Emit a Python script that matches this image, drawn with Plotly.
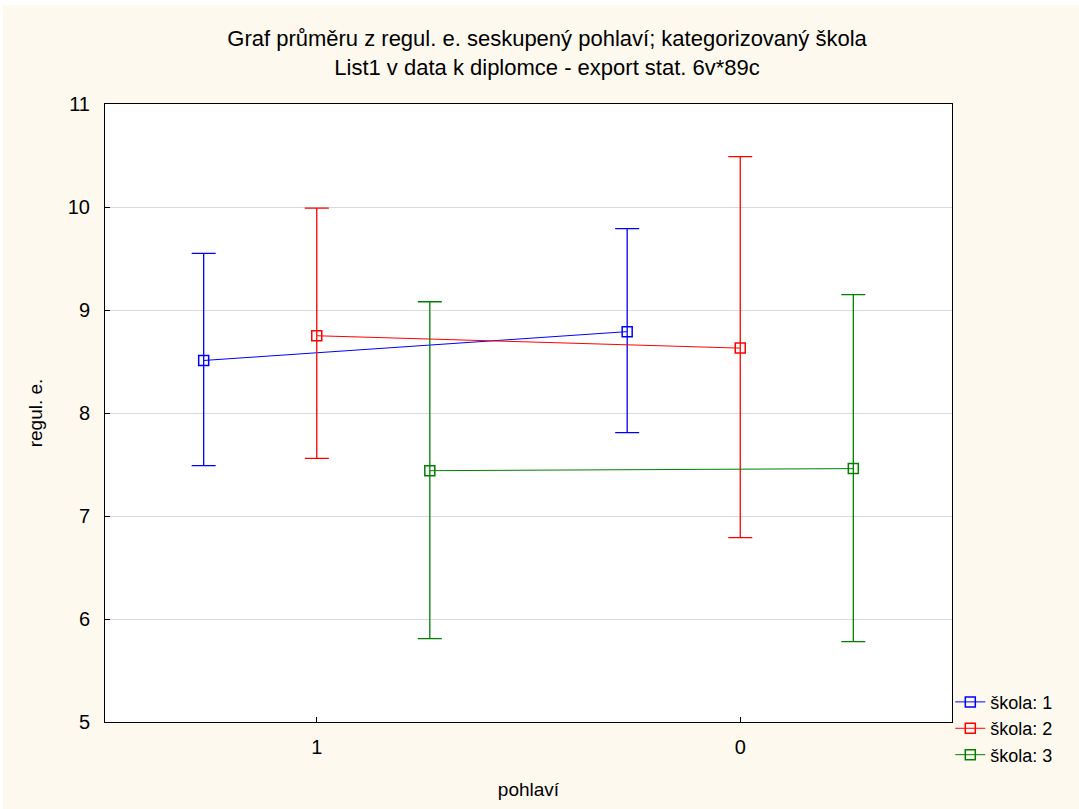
import plotly.graph_objects as go

categories = ["1", "0"]
series_names = ["škola: 1", "škola: 2", "škola: 3"]
means = [[8.51, 8.79], [8.75, 8.63], [7.44, 7.46]]
upper = [[9.55, 9.79], [9.99, 10.49], [9.08, 9.15]]
lower = [[7.49, 7.81], [7.56, 6.79], [5.81, 5.78]]
colors = ["#0000FF", "#FF0000", "#008000"]
offsets = [-0.267, 0.0, 0.267]

FONT = "Liberation Sans, Arial, sans-serif"

fig = go.Figure()
for name, m, u, lo, c, off in zip(series_names, means, upper, lower, colors, offsets):
    xs = [i + off for i in range(len(categories))]
    fig.add_trace(go.Scatter(
        x=xs, y=m, name=name, mode="lines+markers",
        line=dict(color=c, width=1),
        marker=dict(symbol="square-open", size=10, color=c, line=dict(width=1.5)),
        error_y=dict(type="data", symmetric=False,
                     array=[a - b for a, b in zip(u, m)],
                     arrayminus=[b - a for a, b in zip(lo, m)],
                     color=c, thickness=1.3, width=12),
    ))

fig.update_layout(
    width=1079, height=809,
    paper_bgcolor="#FEF9EF", plot_bgcolor="#FFFFFF",
    margin=dict(l=105, r=127, t=104, b=87),
    font=dict(family=FONT, size=20, color="#000000"),
    title=dict(text="Graf průměru z regul. e. seskupený pohlaví; kategorizovaný škola<br>List1 v data k diplomce - export stat. 6v*89c",
               x=0.507, xanchor="center", y=0.943, yanchor="top",
               font=dict(family=FONT, size=22)),
    showlegend=True,
    legend=dict(x=0.998, xanchor="left", y=0.062, yanchor="top",
                bgcolor="rgba(0,0,0,0)", font=dict(family=FONT, size=18),
                tracegroupgap=0, itemwidth=30),
    xaxis=dict(range=[-0.5, 1.5], tickmode="array", tickvals=[0, 1], ticktext=categories,
               showgrid=False, zeroline=False, showline=True, mirror=True,
               linecolor="#000000", linewidth=1, ticks="inside", ticklen=5,
               tickcolor="#000000", tickfont=dict(size=20), ticklabelstandoff=7,
               title=dict(text="pohlaví", font=dict(family=FONT, size=19), standoff=25)),
    yaxis=dict(range=[5, 11], dtick=1, showgrid=True, gridcolor="#D9D9D9", gridwidth=1,
               zeroline=False, showline=True, mirror=True,
               linecolor="#000000", linewidth=1, ticks="inside", ticklen=5,
               tickcolor="#000000", tickfont=dict(size=20), ticklabelstandoff=10,
               title=dict(text="regul. e.", font=dict(family=FONT, size=19), standoff=20)),
    shapes=[
        dict(type="rect", xref="paper", yref="paper", x0=-0.2, x1=1.2,
             y0=(722 - 5) / 618, y1=(722 + 5) / 618,
             fillcolor="#FFFFFF", line=dict(width=0), layer="above"),
        dict(type="rect", xref="paper", yref="paper", x0=-110 / 847, x1=-102 / 847,
             y0=-0.2, y1=1.2,
             fillcolor="#FFFFFF", line=dict(width=0), layer="above"),
    ],
)

fig.write_html("out.html")
